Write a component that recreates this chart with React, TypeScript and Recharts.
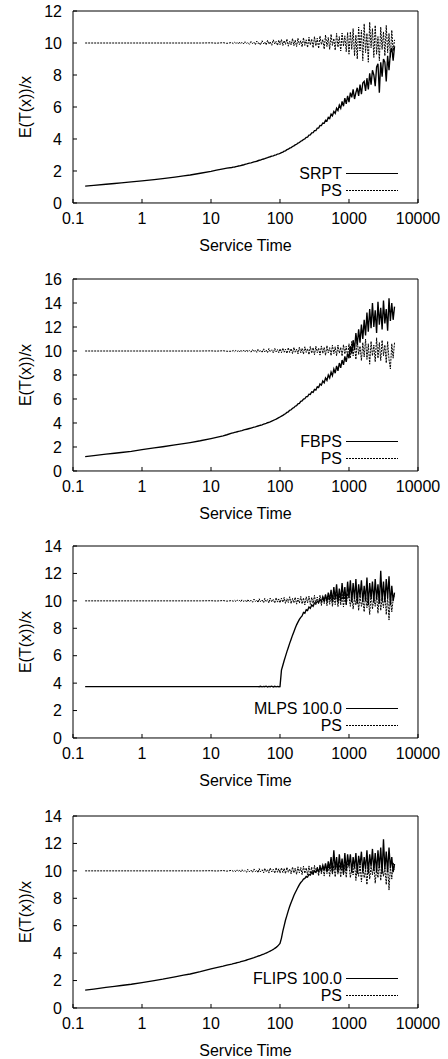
import React from "react";
import { LineChart, Line, XAxis, YAxis, Legend, Label } from "recharts";

// service time grid shared by every panel
const serviceTime = [
  0.15, 0.2, 0.3, 0.4, 0.5, 0.7, 1, 1.5, 2, 3, 4, 5, 7, 10, 12, 15, 17,
  20, 21, 22, 23, 24, 25, 26, 27, 28, 30, 31, 33, 34, 36, 38, 40, 42, 44, 46, 48, 50, 52, 55, 58, 60, 63, 66, 69, 72, 76, 80, 84, 88, 92, 96,
  100, 105, 110, 115, 120, 126, 132, 138, 145, 152, 159, 166, 174, 182, 191, 200, 209, 219, 229, 240, 251, 263, 275, 288, 302, 316, 331, 347, 363, 380, 398, 417, 437, 457, 479, 501, 525, 550, 575, 603, 631, 661, 692, 724, 759, 794, 832, 871, 912, 955,
  1000, 1047, 1096, 1148, 1202, 1259, 1318, 1380, 1445, 1514, 1585, 1660, 1738, 1820, 1905, 1995, 2089, 2188, 2291, 2399, 2512, 2630, 2754, 2884, 3020, 3162, 3311, 3467, 3631, 3802, 3981, 4169, 4365, 4571,
];

const srpt = [
  1.05, 1.1, 1.17, 1.22, 1.26, 1.32, 1.38, 1.46, 1.52, 1.62, 1.69, 1.75, 1.86, 1.98, 2.05, 2.13, 2.18,
  2.22, 2.24, 2.25, 2.27, 2.29, 2.31, 2.32, 2.34, 2.36, 2.39, 2.41, 2.44, 2.46, 2.49, 2.51, 2.54, 2.57, 2.59, 2.61, 2.64, 2.67, 2.68, 2.72, 2.75, 2.77, 2.81, 2.83, 2.87, 2.89, 2.93, 2.95, 2.99, 3.01, 3.06, 3.07,
  3.1, 3.15, 3.18, 3.24, 3.26, 3.33, 3.36, 3.43, 3.46, 3.53, 3.57, 3.63, 3.67, 3.74, 3.78, 3.86, 3.9, 3.97, 4.0, 4.1, 4.12, 4.24, 4.26, 4.38, 4.4, 4.52, 4.52, 4.68, 4.68, 4.85, 4.84, 5.0, 4.98, 5.18, 5.13, 5.35, 5.28, 5.55, 5.45, 5.72, 5.6, 5.92, 5.78, 6.12, 5.92, 6.35, 6.05, 6.55, 6.2, 6.7,
  6.3, 6.9, 6.6, 7.1, 6.5, 6.9, 7.2, 6.7, 7.4, 6.8, 7.5, 7.6, 7.0, 7.8, 7.1, 8.1, 7.4, 8.3, 8.0, 7.3, 8.5, 8.7, 6.9, 8.8, 7.9, 9.0, 8.8, 7.6, 9.2, 8.3, 9.4, 9.7, 8.9, 9.8,
];

const psSrpt = [
  10, 10, 10, 10, 10, 10, 10, 10, 10, 10, 10, 10, 10, 10.01, 9.99, 10.02, 9.98,
  10.03, 9.96, 10.05, 9.97, 10.02, 9.94, 10.06, 9.98, 10.04, 9.95, 10.08, 9.97, 10.03, 9.92, 10.1, 9.96, 10.05, 9.9, 10.12, 9.97, 10.04, 9.88, 10.14, 9.95, 10.06, 9.89, 10.17, 9.93, 10.08, 9.86, 10.2, 9.94, 10.1, 9.85, 10.18,
  9.9, 10.22, 9.84, 10.15, 9.92, 10.25, 9.8, 10.12, 9.88, 10.28, 9.83, 10.18, 9.78, 10.3, 9.9, 10.14, 9.76, 10.33, 9.85, 10.2, 9.72, 10.36, 9.88, 10.25, 9.7, 10.4, 9.82, 10.3, 9.66, 10.44, 9.9, 10.22, 9.62, 10.5, 9.78, 10.35, 9.6, 10.55, 9.85, 10.28, 9.55, 10.6, 9.74, 10.4, 9.5, 10.62, 9.8, 10.45, 9.45, 10.66,
  9.3, 10.7, 9.6, 10.9, 9.2, 10.5, 9.0, 11.0, 9.5, 10.8, 8.9, 11.2, 9.4, 10.6, 8.8, 11.3, 9.7, 10.9, 9.1, 11.1, 9.3, 10.4, 8.9, 11.0, 9.6, 10.7, 9.2, 11.1, 9.4, 10.6, 9.1, 10.8, 9.5, 10.2,
];

const fbps = [
  1.2, 1.28, 1.4, 1.48, 1.54, 1.64, 1.78, 1.92, 2.02, 2.17, 2.28, 2.37, 2.52, 2.7, 2.8, 2.93, 3.02,
  3.15, 3.18, 3.21, 3.24, 3.27, 3.3, 3.32, 3.35, 3.37, 3.42, 3.44, 3.48, 3.5, 3.54, 3.58, 3.62, 3.65, 3.68, 3.72, 3.75, 3.78, 3.81, 3.85, 3.9, 3.93, 3.97, 4.02, 4.06, 4.1, 4.16, 4.21, 4.27, 4.32, 4.38, 4.44,
  4.5, 4.57, 4.63, 4.72, 4.77, 4.88, 4.93, 5.05, 5.1, 5.23, 5.27, 5.4, 5.45, 5.6, 5.63, 5.8, 5.84, 6.0, 6.02, 6.2, 6.2, 6.4, 6.38, 6.6, 6.55, 6.8, 6.75, 7.02, 6.95, 7.25, 7.15, 7.5, 7.35, 7.75, 7.55, 8.0, 7.75, 8.25, 7.95, 8.5, 8.15, 8.75, 8.35, 9.0, 8.6, 9.25, 8.85, 9.55, 9.1, 9.8,
  9.4, 10.4, 9.8, 10.9, 10.1, 11.5, 10.5, 11.8, 10.7, 12.2, 11.0, 12.6, 11.3, 13.2, 11.6, 13.5, 11.9, 14.0, 12.0, 13.4, 11.5, 14.1, 12.2, 13.6, 11.8, 14.2, 12.3, 13.5, 11.7, 14.4, 12.5, 14.0, 12.6, 13.7,
];

const psFbps = [
  10, 10, 10, 10, 10, 10, 10, 10, 10, 10, 10, 10, 10, 10.01, 9.99, 10.02, 9.98,
  9.98, 10.04, 9.95, 10.06, 9.97, 10.03, 9.93, 10.08, 9.96, 10.05, 9.92, 10.1, 9.95, 10.04, 9.9, 10.12, 9.94, 10.07, 9.89, 10.15, 9.96, 10.05, 9.87, 10.18, 9.93, 10.08, 9.86, 10.2, 9.95, 10.1, 9.84, 10.22, 9.92, 10.12, 9.85,
  10.18, 9.86, 10.24, 9.9, 10.15, 9.8, 10.28, 9.88, 10.2, 9.78, 10.3, 9.9, 10.16, 9.75, 10.32, 9.85, 10.22, 9.74, 10.35, 9.88, 10.2, 9.7, 10.38, 9.82, 10.28, 9.68, 10.4, 9.86, 10.25, 9.66, 10.42, 9.8, 10.3, 9.64, 10.45, 9.84, 10.28, 9.62, 10.48, 9.78, 10.35, 9.6, 10.5, 9.82, 10.3, 9.58, 10.52, 9.75, 10.4, 9.55,
  10.6, 9.4, 10.8, 9.6, 10.5, 9.3, 10.9, 9.7, 10.4, 9.2, 10.7, 9.5, 11.0, 9.3, 10.6, 8.9, 10.8, 9.6, 10.5, 9.1, 11.1, 9.4, 10.7, 9.2, 10.9, 9.6, 10.5, 9.0, 10.8, 9.3, 8.5, 10.6, 9.4, 10.7,
];

const mlps = [
  3.75, 3.75, 3.75, 3.75, 3.75, 3.75, 3.75, 3.75, 3.75, 3.75, 3.75, 3.75, 3.75, 3.75, 3.75, 3.75, 3.75,
  3.75, 3.75, 3.75, 3.75, 3.75, 3.75, 3.75, 3.75, 3.75, 3.75, 3.75, 3.75, 3.75, 3.75, 3.75, 3.75, 3.75, 3.75, 3.75, 3.75, 3.74, 3.77, 3.73, 3.76, 3.74, 3.78, 3.72, 3.76, 3.74, 3.78, 3.72, 3.77, 3.73, 3.76, 3.74,
  3.75, 4.95, 5.3, 5.65, 5.95, 6.3, 6.6, 6.9, 7.2, 7.5, 7.75, 8.0, 8.25, 8.45, 8.65, 8.8, 8.9, 9.15, 9.1, 9.35, 9.3, 9.55, 9.45, 9.7, 9.6, 9.85, 9.85, 9.95, 9.9, 10.1, 9.95, 10.3, 10.0, 10.45, 9.95, 10.6, 10.05, 10.8, 9.9, 11.0, 10.1, 11.2, 9.9, 10.9, 10.0, 11.3, 10.1, 11.0, 9.8, 11.4,
  10.2, 11.5, 9.9, 11.3, 10.1, 11.6, 9.8, 11.2, 10.3, 11.5, 9.9, 11.1, 10.0, 11.7, 9.7, 11.3, 10.2, 11.4, 9.9, 11.6, 10.1, 11.2, 9.8, 12.2, 10.0, 11.4, 9.9, 11.6, 10.2, 11.8, 9.7, 11.1, 10.0, 10.6,
];

const psMlps = [
  10, 10, 10, 10, 10, 10, 10, 10, 10, 10, 10, 10, 10, 10.01, 9.99, 10.02, 9.98,
  10.02, 9.97, 10.04, 9.95, 10.06, 9.98, 10.03, 9.93, 10.07, 9.96, 10.05, 9.91, 10.1, 9.95, 10.04, 9.9, 10.13, 9.96, 10.06, 9.88, 10.15, 9.94, 10.07, 9.87, 10.18, 9.95, 10.09, 9.85, 10.2, 9.93, 10.11, 9.84, 10.23, 9.91, 10.14,
  9.86, 10.2, 9.9, 10.25, 9.82, 10.15, 9.88, 10.3, 9.8, 10.18, 9.86, 10.26, 9.76, 10.2, 9.84, 10.32, 9.78, 10.22, 9.7, 10.3, 9.85, 10.35, 9.74, 10.25, 9.82, 10.4, 9.7, 10.28, 9.78, 10.42, 9.66, 10.3, 9.8, 10.45, 9.64, 10.35, 9.75, 10.48, 9.6, 10.38, 9.72, 10.5, 9.58, 10.4, 9.7, 10.52, 9.55, 10.42, 9.66, 10.55,
  10.3, 9.6, 10.5, 9.4, 10.2, 9.7, 10.6, 9.3, 10.4, 9.6, 10.1, 9.2, 10.5, 9.5, 10.3, 9.0, 10.6, 9.4, 10.2, 9.6, 10.4, 9.1, 10.5, 9.3, 10.2, 9.5, 10.6, 9.0, 10.3, 8.6, 10.4, 9.2, 10.1, 10.5,
];

const flips = [
  1.3, 1.38, 1.5, 1.58, 1.64, 1.73, 1.85, 2.0, 2.1, 2.27, 2.39, 2.48, 2.65, 2.85, 2.94, 3.05, 3.12,
  3.2, 3.23, 3.26, 3.28, 3.31, 3.33, 3.35, 3.38, 3.4, 3.44, 3.46, 3.5, 3.52, 3.56, 3.6, 3.64, 3.67, 3.71, 3.74, 3.78, 3.81, 3.84, 3.89, 3.93, 3.96, 4.01, 4.05, 4.1, 4.15, 4.21, 4.27, 4.35, 4.42, 4.5, 4.6,
  4.7, 5.1, 5.6, 6.0, 6.4, 6.75, 7.1, 7.4, 7.7, 7.95, 8.2, 8.4, 8.6, 8.8, 9.0, 9.15, 9.25, 9.4, 9.45, 9.6, 9.55, 9.75, 9.7, 9.9, 9.8, 10.0, 9.9, 10.15, 9.95, 10.3, 10.0, 10.4, 10.05, 10.55, 9.95, 10.7, 10.1, 11.0, 9.9, 11.5, 10.1, 11.0, 9.9, 11.2, 10.1, 10.9, 9.8, 11.3, 10.0, 11.2,
  10.3, 11.2, 9.9, 11.0, 10.2, 11.3, 9.8, 11.1, 10.4, 11.4, 9.9, 11.0, 10.1, 11.5, 9.8, 11.2, 10.3, 11.6, 10.0, 11.3, 9.9, 11.5, 10.2, 11.7, 9.8, 12.3, 10.1, 11.4, 9.9, 11.7, 10.2, 11.0, 9.9, 10.5,
];

const psFlips = [
  10, 10, 10, 10, 10, 10, 10, 10, 10, 10, 10, 10, 10, 10.01, 9.99, 10.02, 9.98,
  10.04, 9.96, 10.02, 9.94, 10.07, 9.97, 10.04, 9.92, 10.09, 9.95, 10.03, 9.9, 10.11, 9.94, 10.06, 9.89, 10.14, 9.95, 10.05, 9.87, 10.16, 9.93, 10.08, 9.86, 10.19, 9.94, 10.1, 9.84, 10.21, 9.92, 10.12, 9.83, 10.24, 9.9, 10.15,
  9.84, 10.22, 9.88, 10.18, 9.8, 10.26, 9.9, 10.14, 9.78, 10.28, 9.85, 10.2, 9.74, 10.3, 9.86, 10.24, 9.72, 10.34, 9.82, 10.22, 9.7, 10.36, 9.8, 10.28, 9.68, 10.4, 9.84, 10.3, 9.64, 10.42, 9.78, 10.34, 9.62, 10.46, 9.8, 10.36, 9.6, 10.48, 9.74, 10.4, 9.56, 10.5, 9.76, 10.44, 9.54, 10.52, 9.7, 10.46, 9.52, 10.56,
  10.4, 9.5, 10.2, 9.7, 10.6, 9.3, 10.3, 9.6, 10.5, 9.2, 10.4, 9.5, 10.1, 9.0, 10.6, 9.4, 10.3, 9.7, 10.5, 9.1, 10.2, 9.5, 10.6, 9.3, 10.4, 9.6, 10.2, 9.0, 10.5, 8.6, 10.3, 9.4, 10.6, 10.1,
];

const xMajorTicks = [0.1, 1, 10, 100, 1000, 10000];
const xMinorTicks = [0.2, 0.5, 2, 5, 20, 50, 200, 500, 2000, 5000];
const yTicks12 = [0, 2, 4, 6, 8, 10, 12];
const yTicks14 = [0, 2, 4, 6, 8, 10, 12, 14];
const yTicks16 = [0, 2, 4, 6, 8, 10, 12, 14, 16];

const panels = [
  { name: "SRPT", main: srpt, ps: psSrpt, yTicks: yTicks12, top: 0 },
  { name: "FBPS", main: fbps, ps: psFbps, yTicks: yTicks16, top: 268 },
  { name: "MLPS 100.0", main: mlps, ps: psMlps, yTicks: yTicks14, top: 535 },
  { name: "FLIPS 100.0", main: flips, ps: psFlips, yTicks: yTicks14, top: 805 },
];

const FONT = "'Liberation Sans', Arial, Helvetica, sans-serif";
const tickStyle = { fontSize: 16, fill: "#000", fontFamily: FONT };
const axisStroke = { stroke: "#000", strokeWidth: 1 };
// axes need a non-zero size to be drawn; the plot box is set by the margins
const THIN = 0.01;

const renderLegend = (props: any) => {
  const items = [...(props.payload || [])].sort((a: any, b: any) =>
    a.dataKey === "main" ? -1 : b.dataKey === "main" ? 1 : 0
  );
  return (
    <div style={{ fontFamily: FONT, fontSize: 16, color: "#000" }}>
      {items.map((item: any) => (
        <div
          key={item.dataKey}
          style={{ display: "flex", justifyContent: "flex-end", alignItems: "center", height: 17 }}
        >
          <span style={{ lineHeight: "17px" }}>{item.value}</span>
          <svg width={52} height={17} style={{ marginLeft: 4, display: "block" }}>
            <line
              x1={0}
              x2={52}
              y1={8.5}
              y2={8.5}
              stroke="#000"
              strokeWidth={1.2}
              strokeDasharray={item.payload?.strokeDasharray}
            />
          </svg>
        </div>
      ))}
    </div>
  );
};

const renderYLabel = (props: any) => {
  const vb = props.viewBox || {};
  const cx = vb.x - 48;
  const cy = vb.y + vb.height / 2;
  return (
    <text
      x={cx}
      y={cy}
      transform={`rotate(-90, ${cx}, ${cy})`}
      textAnchor="middle"
      dominantBaseline="central"
      fontSize={16}
      fontFamily={FONT}
      fill="#000"
    >
      E(T(x))/x
    </text>
  );
};

function Panel({ panel }: { panel: any }) {
  const rows = serviceTime.map((x, i) => ({ x, main: panel.main[i], ps: panel.ps[i] }));
  const yMax = panel.yTicks[panel.yTicks.length - 1];
  return (
    <div style={{ position: "absolute", left: 0, top: panel.top }}>
      <LineChart
        width={448}
        height={254}
        data={rows}
        margin={{ top: 11, right: 30, bottom: 51, left: 73 }}
      >
        <XAxis
          type="number"
          dataKey="x"
          scale="log"
          domain={[0.1, 10000]}
          allowDataOverflow
          ticks={xMajorTicks}
          interval={0}
          height={THIN}
          tickSize={-4}
          tickMargin={14}
          tick={tickStyle}
          tickFormatter={(v: number) => String(v)}
          axisLine={axisStroke}
          tickLine={axisStroke}
        >
          <Label
            value="Service Time"
            position="bottom"
            offset={37}
            style={{ fontSize: 16, fill: "#000", fontFamily: FONT }}
          />
        </XAxis>
        <XAxis
          xAxisId="minorB"
          type="number"
          dataKey="x"
          scale="log"
          domain={[0.1, 10000]}
          allowDataOverflow
          ticks={xMinorTicks}
          interval={0}
          height={THIN}
          tickSize={-2}
          tick={false}
          axisLine={false}
          tickLine={axisStroke}
        />
        <XAxis
          xAxisId="top"
          orientation="top"
          type="number"
          dataKey="x"
          scale="log"
          domain={[0.1, 10000]}
          allowDataOverflow
          ticks={xMajorTicks}
          interval={0}
          height={THIN}
          tickSize={-4}
          tick={false}
          axisLine={axisStroke}
          tickLine={axisStroke}
        />
        <XAxis
          xAxisId="minorT"
          orientation="top"
          type="number"
          dataKey="x"
          scale="log"
          domain={[0.1, 10000]}
          allowDataOverflow
          ticks={xMinorTicks}
          interval={0}
          height={THIN}
          tickSize={-2}
          tick={false}
          axisLine={false}
          tickLine={axisStroke}
        />
        <YAxis
          type="number"
          domain={[0, yMax]}
          ticks={panel.yTicks}
          interval={0}
          width={THIN}
          tickSize={-4}
          tickMargin={15}
          tick={tickStyle}
          axisLine={axisStroke}
          tickLine={axisStroke}
        >
          <Label content={renderYLabel} />
        </YAxis>
        <YAxis
          yAxisId="right"
          orientation="right"
          type="number"
          domain={[0, yMax]}
          ticks={panel.yTicks}
          interval={0}
          width={THIN}
          tickSize={-4}
          tick={false}
          axisLine={axisStroke}
          tickLine={axisStroke}
        />
        <Legend
          layout="vertical"
          align="center"
          verticalAlign="middle"
          wrapperStyle={{ left: 0, top: 165, width: 398, height: 34 }}
          content={renderLegend}
        />
        <Line
          dataKey="main"
          name={panel.name}
          type="linear"
          stroke="#000"
          strokeWidth={1.35}
          dot={false}
          isAnimationActive={false}
        />
        <Line
          dataKey="ps"
          name="PS"
          type="linear"
          stroke="#000"
          strokeWidth={1}
          strokeDasharray="2 1"
          dot={false}
          isAnimationActive={false}
        />
      </LineChart>
    </div>
  );
}

export default function App() {
  return (
    <div style={{ position: "absolute", left: 0, top: 0, width: 448, height: 1059, background: "#fff", fontFamily: FONT }}>
      {panels.map((p) => (
        <Panel key={p.name} panel={p} />
      ))}
    </div>
  );
}
